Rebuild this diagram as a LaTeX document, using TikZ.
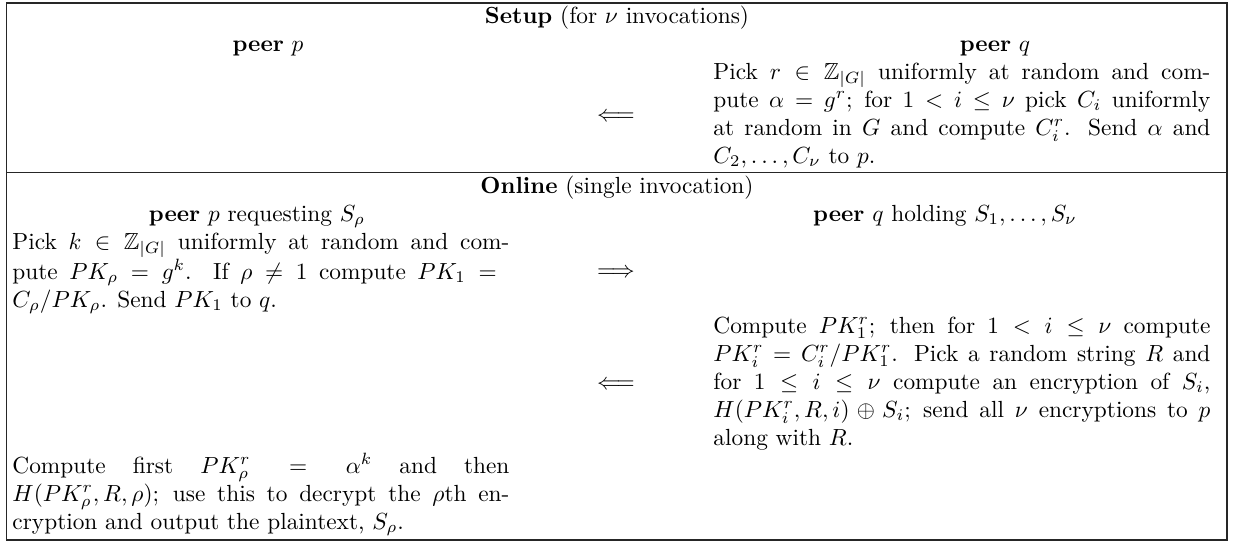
\documentclass[tikz,border=0pt]{standalone}
\usepackage{amssymb}
\begin{document}
\begin{tikzpicture}[x=0.42857pt,y=-0.42857pt,
  para/.style={text width=213pt, align=justify, inner sep=0pt, anchor=base west},
  head/.style={inner sep=0pt, anchor=base},
  rule/.style={line width=0.55pt, draw=black!85}]
\useasboundingbox (0,0) rectangle (1233,542);
\draw[rule] (6.7,3) rectangle (1227,540);
\draw[rule] (6.7,172.7) -- (1227,172.7);
% Setup
\node[head] (setup) at (617,23) {\textbf{Setup} (for $\nu$ invocations)};
\node[head] (pp) at (268,51) {\textbf{peer} $p$};
\node[head] (pq) at (995,51) {\textbf{peer} $q$};
\node[para] (qs) at (713,79) {Pick $r\in\mathbb{Z}_{|G|}$ uniformly at random and com-\linebreak pute $\alpha=g^r$; for $1<i\le\nu$ pick $C_i$ uniformly\linebreak at random in $G$ and compute $C_i^r$. Send $\alpha$ and\linebreak $C_2,\ldots,C_\nu$ to $p$.};
\node[head] (a1) at (616,121) {$\Longleftarrow$};
% Online
\node[head] (online) at (617,193) {\textbf{Online} (single invocation)};
\node[head] (pp2) at (257,221) {\textbf{peer} $p$ requesting $S_\rho$};
\node[head] (pq2) at (945,221) {\textbf{peer} $q$ holding $S_1,\ldots,S_\nu$};
\node[para] (pa) at (12,249) {Pick $k\in\mathbb{Z}_{|G|}$ uniformly at random and com-\linebreak pute $PK_\rho=g^k$. If $\rho\ne1$ compute $PK_1={}$\linebreak $C_\rho/PK_\rho$. Send $PK_1$ to $q$.};
\node[head] (a2) at (616,277) {$\Longrightarrow$};
\node[para] (qb) at (713,333) {Compute $PK_1^r$; then for $1<i\le\nu$ compute\linebreak $PK_i^r=C_i^r/PK_1^r$. Pick a random string $R$ and\linebreak for $1\le i\le\nu$ compute an encryption of $S_i$,\linebreak $H(PK_i^r,R,i)\oplus S_i$; send all $\nu$ encryptions to $p$\linebreak along with $R$.};
\node[head] (a3) at (616,389) {$\Longleftarrow$};
\node[para] (pc) at (12,473) {Compute first $PK_\rho^r=\alpha^k$ and then\linebreak $H(PK_\rho^r,R,\rho)$; use this to decrypt the $\rho$th en-\linebreak cryption and output the plaintext, $S_\rho$.};
\end{tikzpicture}
\end{document}
